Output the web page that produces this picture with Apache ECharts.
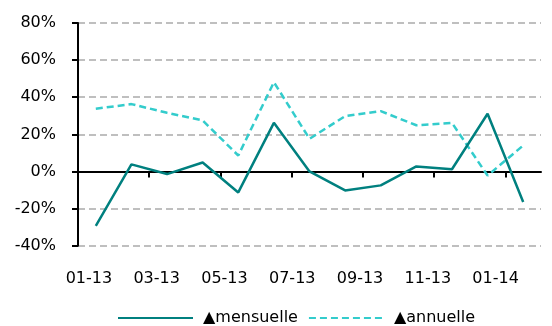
<!DOCTYPE html>
<html>
<head>
<meta charset="utf-8">
<script src="https://cdn.jsdelivr.net/npm/echarts@6/dist/echarts.min.js"></script>
<style>
  html, body { margin: 0; padding: 0; background: #fff; }
  #chart { width: 552px; height: 326px; }
</style>
</head>
<body>
<div id="chart"></div>
<script>
// Monthly periods, Jan 2013 to Jan 2014
const months = ['01-13','02-13','03-13','04-13','05-13','06-13','07-13','08-13','09-13','10-13','11-13','12-13','01-14'];
// Bimonthly tick labels shown under the axis
const tickLabels = ['01-13','03-13','05-13','07-13','09-13','11-13','01-14'];
// Two-month spans marked by ticks on the zero line
const tickSpans = ['01-02','03-04','05-06','07-08','09-10','11-12'];
// Month-on-month change (%)
const mensuelle = [-29.3, 3.8, -1.4, 4.8, -11.3, 26.2, 0.0, -10.2, -7.5, 2.7, 1.2, 31.1, -16.5];
// Year-on-year change (%)
const annuelle = [33.8, 36.3, 31.6, 27.5, 8.6, 48.1, 17.6, 29.8, 32.5, 24.9, 26.2, -2.2, 14.0];

const FONT = 'DejaVu Sans';
const chart = echarts.init(document.getElementById('chart'), null, { renderer: 'canvas' });

const GRID_TOP = 23, GRID_BOTTOM = 80.3, GRID_LEFT = 78, GRID_RIGHT = 11;
const bandW = (552 - GRID_LEFT - GRID_RIGHT) / months.length;

chart.setOption({
  animation: false,
  textStyle: { fontFamily: FONT },
  legend: {
    left: 117, top: 310, padding: 0,
    itemWidth: 75, itemHeight: 16, itemGap: 10,
    itemStyle: { opacity: 0 },
    textStyle: { fontFamily: FONT, fontSize: 16, color: '#000', padding: [0, 0, 0, 5] },
    data: [
      { name: '▲mensuelle' },
      { name: '▲annuelle' }
    ]
  },
  grid: [
    { left: GRID_LEFT, right: GRID_RIGHT, top: GRID_TOP, bottom: GRID_BOTTOM },
    { left: 55, right: 22.5, top: GRID_TOP, bottom: GRID_BOTTOM },
    // tick grid ends at the last two-month boundary (Jan 2014 band start)
    { left: GRID_LEFT, right: GRID_RIGHT + bandW, top: GRID_TOP, bottom: GRID_BOTTOM }
  ],
  xAxis: [
    {
      type: 'category', gridIndex: 0, data: months, boundaryGap: true,
      axisLine: { onZero: true, lineStyle: { color: '#000', width: 2 } },
      axisTick: { show: false },
      axisLabel: { show: false },
      splitLine: { show: false }
    },
    {
      type: 'category', gridIndex: 1, data: tickLabels, boundaryGap: true,
      axisLine: { show: false }, axisTick: { show: false }, splitLine: { show: false },
      axisLabel: { interval: 0, margin: 25, fontFamily: FONT, fontSize: 16, color: '#000' }
    },
    {
      type: 'category', gridIndex: 2, data: tickSpans, boundaryGap: true,
      axisLine: { show: false, onZero: true, onZeroAxisIndex: 2 },
      axisTick: { show: true, interval: 0, length: 6, lineStyle: { color: '#000', width: 2 } },
      axisLabel: { show: false }, splitLine: { show: false }
    }
  ],
  yAxis: [
    {
      type: 'value', gridIndex: 0, min: -40, max: 80, interval: 20,
      axisLine: { show: true, lineStyle: { color: '#000', width: 2 } },
      axisTick: { show: true, length: 6, lineStyle: { color: '#000', width: 2 } },
      axisLabel: { formatter: '{value}%', margin: 22, fontFamily: FONT, fontSize: 16, color: '#000' },
      splitLine: { show: true, lineStyle: { color: '#BFBFBF', width: 2, type: [7, 4] } }
    },
    { type: 'value', gridIndex: 1, min: -40, max: 80, show: false },
    {
      type: 'value', gridIndex: 2, min: -40, max: 80,
      axisLine: { show: false }, axisTick: { show: false }, axisLabel: { show: false }, splitLine: { show: false }
    }
  ],
  series: [
    {
      name: '▲mensuelle', type: 'line', xAxisIndex: 0, yAxisIndex: 0,
      data: mensuelle, symbol: 'none', z: 3,
      lineStyle: { color: '#00807F', width: 2.5 },
      itemStyle: { color: '#00807F' }
    },
    {
      name: '▲annuelle', type: 'line', xAxisIndex: 0, yAxisIndex: 0,
      data: annuelle, symbol: 'none', z: 2,
      lineStyle: { color: '#33CCCC', width: 2.5, type: [7, 4] },
      itemStyle: { color: '#33CCCC' }
    }
  ]
});
</script>
</body>
</html>
